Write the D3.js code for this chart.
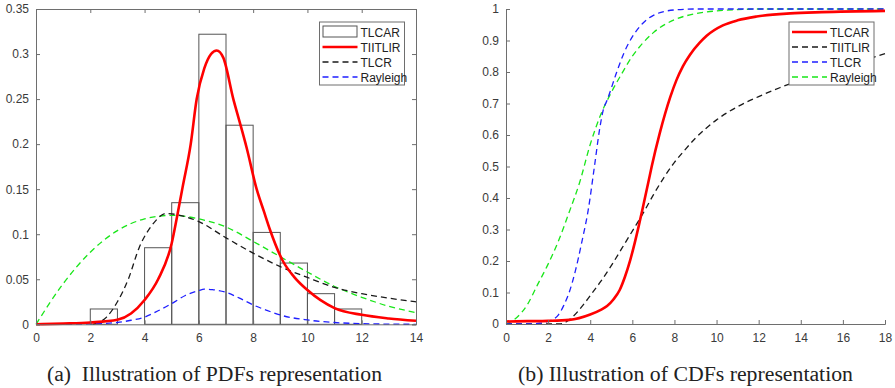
<!DOCTYPE html>
<html><head><meta charset="utf-8">
<script src="https://cdn.jsdelivr.net/npm/d3@7"></script>
<style>body{margin:0;background:#fff}svg{display:block}</style>
</head><body>
<svg id="c" width="895" height="388"></svg>
<script>
// ---------- Data: PDFs (left) ----------
const histBinStart = [2, 4, 5, 6, 7, 8, 9, 10, 11];
const histValues   = [0.017, 0.085, 0.135, 0.322, 0.221, 0.102, 0.068, 0.034, 0.017];
const pdfRedX = [0,1,2,3,3.5,4,4.5,5,5.2,5.4,5.7,5.92,6.2,6.45,6.66,6.9,7.27,7.5,7.76,8.13,8.4,8.62,9.1,9.5,10,11,12,13,14];
const pdfRedY = [0,0.0008,0.002,0.005,0.012,0.027,0.05,0.09,0.12,0.152,0.2,0.25,0.284,0.3,0.304,0.296,0.25,0.225,0.196,0.15,0.125,0.105,0.07,0.053,0.038,0.018,0.0105,0.0065,0.004];
const pdfBlackX = [2.1,2.6,3.0,3.4,3.8,4.3,4.8,5.3,6.0,7.0,8.0,9.0,10,11,12,13,14];
const pdfBlackY = [0,0.008,0.025,0.050,0.085,0.111,0.123,0.121,0.114,0.096,0.079,0.064,0.052,0.041,0.034,0.029,0.025];
const pdfBlueX = [0,1,2,3,3.5,4,4.5,5,5.5,6,6.2,6.5,7,7.5,8,8.5,9,10,11,12,13,14];
const pdfBlueY = [0,0,0.0005,0.002,0.0045,0.008,0.015,0.023,0.032,0.0375,0.039,0.0385,0.0355,0.029,0.0215,0.0155,0.0103,0.0048,0.002,0.0007,0.0002,0];
const pdfGreenX = [0,1,2,3,4,5,6,7,8,9,10,11,12,13,14];
const pdfGreenY = [0,0.045,0.080,0.104,0.117,0.121,0.117,0.108,0.092,0.075,0.058,0.042,0.030,0.020,0.013];
const pdfXTicks = [0,2,4,6,8,10,12,14];
const pdfYTicks = [0,0.05,0.1,0.15,0.2,0.25,0.3,0.35];
const pdfLegend = ["TLCAR","TIITLIR","TLCR","Rayleigh"];

// ---------- Data: CDFs (right) ----------
const cdfRedX = [0,1,2,3,4,4.5,4.8,5.1,5.4,5.65,5.9,6.3,6.5,6.76,6.92,7.3,7.8,8.1,8.4,8.74,9.2,9.53,10.3,11,11.9,13.5,15,18];
const cdfRedY = [0.008,0.009,0.01,0.013,0.03,0.045,0.057,0.078,0.108,0.15,0.203,0.31,0.37,0.45,0.50,0.605,0.72,0.775,0.818,0.855,0.893,0.915,0.948,0.964,0.976,0.986,0.99,0.994];
const cdfBlackX = [0,2.5,2.8,3.2,3.6,4,4.5,5,5.5,6,6.5,7,7.5,8,8.5,9,10,11,12,13,14,15,16,17,18];
const cdfBlackY = [0,0,0.005,0.025,0.055,0.09,0.135,0.185,0.24,0.295,0.35,0.41,0.465,0.513,0.553,0.59,0.648,0.69,0.722,0.75,0.775,0.797,0.818,0.838,0.858];
const cdfBlueX = [0,1,1.5,2,2.5,2.75,3,3.3,3.6,3.9,4.2,4.45,4.62,4.8,5.26,5.6,6.05,6.5,7,8,9,18];
const cdfBlueY = [0,0,0.002,0.008,0.03,0.06,0.1,0.17,0.26,0.36,0.5,0.62,0.68,0.71,0.80,0.86,0.917,0.955,0.98,0.997,1,1];
const cdfGreenX = [0,0.5,1,1.5,2,2.5,3,3.5,4,4.5,5,5.5,6,6.5,7,8,9,10,11,12,14,18];
const cdfGreenY = [0,0.02,0.06,0.125,0.19,0.265,0.355,0.45,0.57,0.665,0.735,0.795,0.85,0.892,0.925,0.966,0.985,0.994,0.998,1,1,1];
const cdfXTicks = [0,2,4,6,8,10,12,14,16,18];
const cdfYTicks = [0,0.1,0.2,0.3,0.4,0.5,0.6,0.7,0.8,0.9,1];
const cdfLegend = ["TLCAR","TIITLIR","TLCR","Rayleigh"];

const captions = ["(a)\u00a0 Illustration of PDFs representation", "(b) Illustration of CDFs representation"];

// ---------- Drawing ----------
const svg = d3.select("#c");
const AX = "#6e6e6e", TXT = "#3a3a3a";
const RED = "#ff0000", BLACK = "#1a1a1a", BLUE = "#1f1fff", GREEN = "#19e619";
const zip = (xs, ys) => xs.map((x, i) => [x, ys[i]]);

function axesFrame(g, x, y, xt, yt, box, fmtY) {
  const [x0, x1] = x.range(), [y0, y1] = y.range();
  const xa = g.append("g").attr("transform", `translate(0,${y0})`)
    .call(d3.axisBottom(x).tickValues(xt).tickSize(-4).tickPadding(9).tickFormat(d3.format("d")));
  const ya = g.append("g").attr("transform", `translate(${x0},0)`)
    .call(d3.axisLeft(y).tickValues(yt).tickSize(-4).tickPadding(7).tickFormat(fmtY));
  [xa, ya].forEach(a => {
    a.select(".domain").attr("stroke", AX).attr("stroke-width", 1);
    a.selectAll(".tick line").attr("stroke", AX);
    a.selectAll("text").attr("fill", TXT).style("font-family", "'Liberation Sans', Arial, sans-serif").style("font-size", "12px");
  });
  if (box) {
    const xt2 = g.append("g").attr("transform", `translate(0,${y1})`)
      .call(d3.axisTop(x).tickValues(xt).tickSize(-4).tickFormat(""));
    const yr = g.append("g").attr("transform", `translate(${x1},0)`)
      .call(d3.axisRight(y).tickValues(yt).tickSize(-4).tickFormat(""));
    [xt2, yr].forEach(a => {
      a.select(".domain").attr("stroke", AX);
      a.selectAll(".tick line").attr("stroke", AX);
    });
  }
}

function curve(g, x, y, pts, color, width, dash) {
  const line = d3.line().x(d => x(d[0])).y(d => y(d[1])).curve(d3.curveMonotoneX);
  g.append("path").datum(pts).attr("d", line).attr("fill", "none")
    .attr("stroke", color).attr("stroke-width", width)
    .attr("stroke-dasharray", dash || null).attr("stroke-linejoin", "round");
}

function legend(g, bx, by, bw, bh, items) {
  g.append("rect").attr("x", bx).attr("y", by).attr("width", bw).attr("height", bh)
    .attr("fill", "#fff").attr("stroke", AX).attr("stroke-width", 1);
  items.forEach((it, i) => {
    const cy = by + 10 + i * 15;
    if (it.patch) {
      g.append("rect").attr("x", bx + 3.5).attr("y", cy - 6).attr("width", 34).attr("height", 11)
        .attr("fill", "#fff").attr("stroke", "#555").attr("stroke-width", 1);
    } else {
      g.append("line").attr("x1", bx + 3).attr("x2", bx + 38).attr("y1", cy).attr("y2", cy)
        .attr("stroke", it.color).attr("stroke-width", it.w).attr("stroke-dasharray", it.dash || null);
    }
    g.append("text").attr("x", bx + 41).attr("y", cy + 4.5).text(it.label)
      .attr("fill", "#222").style("font-family", "'Liberation Sans', Arial, sans-serif").style("font-size", "12px");
  });
}

// Left panel
{
  const g = svg.append("g");
  const x = d3.scaleLinear().domain([0, 14]).range([36, 416]);
  const y = d3.scaleLinear().domain([0, 0.35]).range([324.3, 9]);
  g.selectAll("rect.bar").data(histBinStart).join("rect").attr("class", "bar")
    .attr("x", d => x(d)).attr("width", d => x(d + 1) - x(d))
    .attr("y", (d, i) => y(histValues[i])).attr("height", (d, i) => y(0) - y(histValues[i]))
    .attr("fill", "none").attr("stroke", "#555").attr("stroke-width", 1);
  curve(g, x, y, zip(pdfGreenX, pdfGreenY), GREEN, 1.3, "6,4");
  curve(g, x, y, zip(pdfBlackX, pdfBlackY), BLACK, 1.3, "6,4");
  curve(g, x, y, zip(pdfBlueX, pdfBlueY), BLUE, 1.3, "6,4");
  curve(g, x, y, zip(pdfRedX, pdfRedY), RED, 2.6);
  axesFrame(g, x, y, pdfXTicks, pdfYTicks, true, d => d === 0 ? "0" : String(+d.toFixed(2)));
  legend(g, 319.5, 22, 85, 63, [
    {label: pdfLegend[0], patch: true},
    {label: pdfLegend[1], color: RED, w: 2.6},
    {label: pdfLegend[2], color: BLACK, w: 1.3, dash: "6,4"},
    {label: pdfLegend[3], color: BLUE, w: 1.3, dash: "6,4"}
  ]);
}

// Right panel
{
  const g = svg.append("g");
  const x = d3.scaleLinear().domain([0, 18]).range([506, 885]);
  const y = d3.scaleLinear().domain([0, 1]).range([324, 9]);
  curve(g, x, y, zip(cdfBlackX, cdfBlackY), BLACK, 1.3, "6,4");
  curve(g, x, y, zip(cdfGreenX, cdfGreenY), GREEN, 1.3, "6,4");
  curve(g, x, y, zip(cdfBlueX, cdfBlueY), BLUE, 1.3, "6,4");
  curve(g, x, y, zip(cdfRedX, cdfRedY), RED, 2.6);
  axesFrame(g, x, y, cdfXTicks, cdfYTicks, false, d => d === 0 ? "0" : String(+d.toFixed(1)));
  legend(g, 789, 22, 85, 63, [
    {label: cdfLegend[0], color: RED, w: 2.6},
    {label: cdfLegend[1], color: BLACK, w: 1.3, dash: "6,4"},
    {label: cdfLegend[2], color: BLUE, w: 1.3, dash: "6,4"},
    {label: cdfLegend[3], color: GREEN, w: 1.3, dash: "6,4"}
  ]);
}

// Captions
svg.selectAll("text.cap").data(captions).join("text").attr("class", "cap")
  .attr("x", (d, i) => i === 0 ? 47 : 518).attr("y", 381)
  .attr("textLength", 335).attr("lengthAdjust", "spacingAndGlyphs")
  .attr("fill", "#222").style("font-family", "'Liberation Serif', 'DejaVu Serif', serif").style("font-size", "20px")
  .text(d => d);
</script>
</body></html>
